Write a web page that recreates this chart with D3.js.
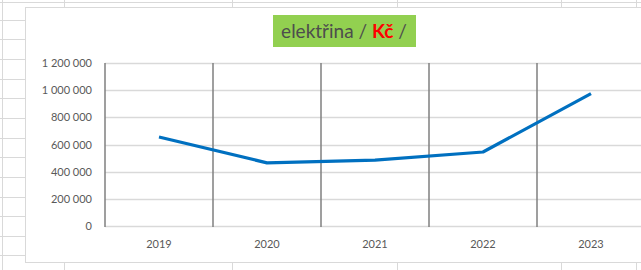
<!DOCTYPE html>
<html lang="cs">
<head>
    <meta charset="UTF-8">
    <title>elektřina / Kč /</title>
    <script src="https://d3js.org/d3.v7.min.js"></script>
    <style>
        body { margin: 0; background: #fff; font-family: Lato, "Open Sans", sans-serif; }
        svg { display: block; }
        .tick text { fill: #595959; }
    </style>
</head>
<body>
    <svg id="chart" width="641" height="270"></svg>

    <script>
        // Data
        const years = ["2019", "2020", "2021", "2022", "2023"];
        const costs = [655000, 465000, 485000, 545000, 975000];
        const yTicks = [0, 200000, 400000, 600000, 800000, 1000000, 1200000];

        // Excel sheet lines behind the chart
        const sheetRows = [20, 39, 59, 79, 98, 118, 138, 157, 177, 197, 216, 236, 255];
        const sheetCols = [64, 232, 397, 561, 636];

        const W = 641, H = 270;
        const svg = d3.select("#chart");

        const gridColor = "#d9d9d9";

        // spreadsheet background
        const sheet = svg.append("g");
        sheet.selectAll(".row").data(sheetRows).enter().append("line")
            .attr("x1", 0).attr("x2", 25)
            .attr("y1", d => d + 0.5).attr("y2", d => d + 0.5)
            .attr("stroke", gridColor);
        sheet.append("line").attr("x1", 2.5).attr("x2", 2.5).attr("y1", 0).attr("y2", H).attr("stroke", gridColor);
        sheet.append("line").attr("x1", 0).attr("x2", W).attr("y1", 2.5).attr("y2", 2.5).attr("stroke", gridColor);
        sheet.selectAll(".colT").data(sheetCols).enter().append("line")
            .attr("x1", d => d + 0.5).attr("x2", d => d + 0.5)
            .attr("y1", 0).attr("y2", 8).attr("stroke", gridColor);
        sheet.selectAll(".colB").data(sheetCols).enter().append("line")
            .attr("x1", d => d + 0.5).attr("x2", d => d + 0.5)
            .attr("y1", 262).attr("y2", H).attr("stroke", gridColor);

        // chart area
        svg.append("rect")
            .attr("x", 25.5).attr("y", 7.5)
            .attr("width", 700).attr("height", 255)
            .attr("fill", "#fff").attr("stroke", gridColor);

        // Scales
        const x = d3.scaleBand().domain(years).range([105, 645]).padding(0);
        const y = d3.scaleLinear().domain([0, 1200000]).range([226, 63]);

        const fmt = v => d3.format(",")(v).replace(/,/g, " ");

        // horizontal gridlines
        svg.append("g")
            .selectAll("line").data(yTicks).enter().append("line")
            .attr("x1", 105).attr("x2", W)
            .attr("y1", d => Math.round(y(d)) + 0.5).attr("y2", d => Math.round(y(d)) + 0.5)
            .attr("stroke", gridColor).attr("stroke-width", 1.3);

        // vertical category separators
        const seps = years.map(d => x(d));
        svg.append("g")
            .selectAll("line").data(seps).enter().append("line")
            .attr("x1", d => d).attr("x2", d => d)
            .attr("y1", y(1200000)).attr("y2", y(0) + 1)
            .attr("stroke", "#7f7f7f").attr("stroke-width", 1.5);

        // y axis labels
        const yAxis = d3.axisLeft(y).tickValues(yTicks).tickFormat(fmt).tickSize(0).tickPadding(13);
        svg.append("g")
            .attr("transform", "translate(105,0)")
            .call(yAxis)
            .call(g => g.select(".domain").remove())
            .selectAll("text")
            .attr("font-size", 11).attr("font-family", "Lato, sans-serif");

        // x axis labels
        const xAxis = d3.axisBottom(x).tickSize(0).tickPadding(14);
        svg.append("g")
            .attr("transform", "translate(0,226)")
            .call(xAxis)
            .call(g => g.select(".domain").remove())
            .selectAll("text")
            .attr("font-size", 11).attr("font-family", "Lato, sans-serif");

        // line
        const line = d3.line()
            .x((d, i) => x(years[i]) + x.bandwidth() / 2)
            .y(d => y(d));

        svg.append("path")
            .datum(costs)
            .attr("d", line)
            .attr("fill", "none")
            .attr("stroke", "#0070c0")
            .attr("stroke-width", 3.2)
            .attr("stroke-linejoin", "round");

        // title with green box
        svg.append("rect")
            .attr("x", 273).attr("y", 15)
            .attr("width", 143).attr("height", 32)
            .attr("fill", "#92d050");

        const title = svg.append("text")
            .attr("x", 344).attr("y", 38)
            .attr("text-anchor", "middle")
            .attr("font-size", 19)
            .attr("font-family", "Lato, sans-serif")
            .attr("fill", "#4d4d4d");
        title.append("tspan").text("elektřina / ");
        title.append("tspan").attr("fill", "#ff0000").attr("font-weight", "bold").text("Kč");
        title.append("tspan").text(" /");
    </script>
</body>
</html>
